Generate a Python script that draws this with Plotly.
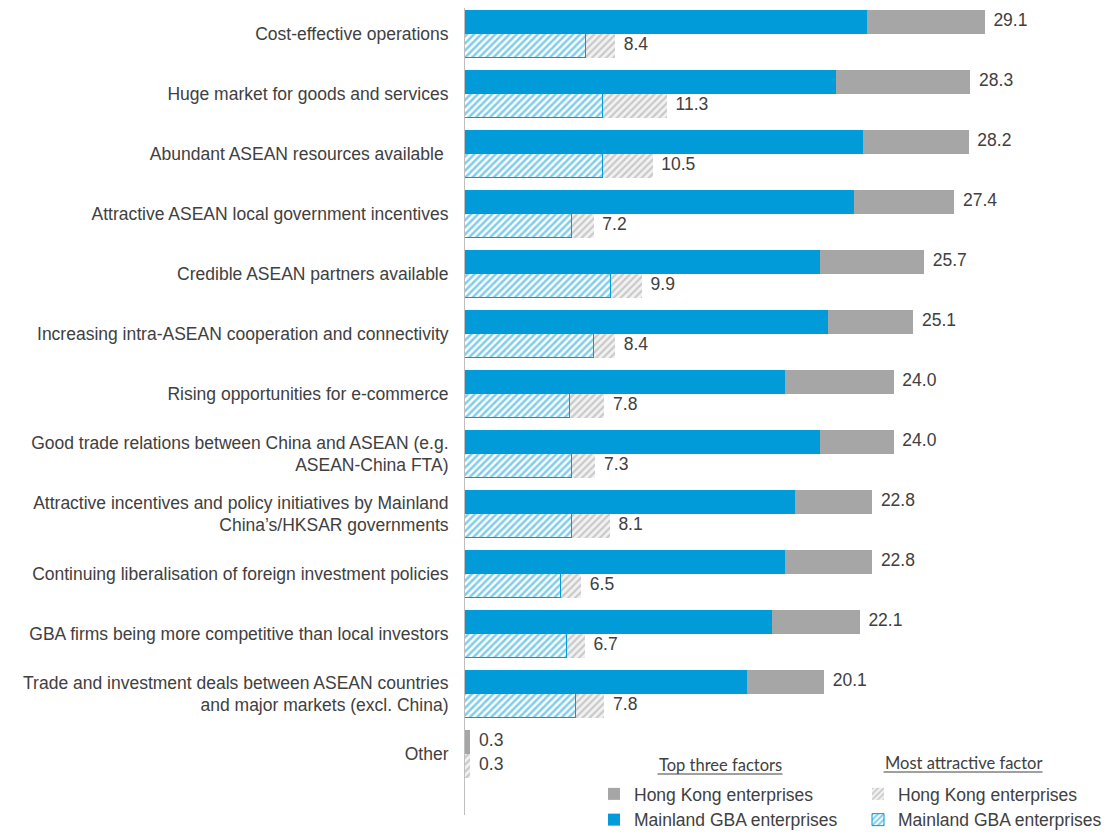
import plotly.graph_objects as go

# Survey factors (top to bottom)
categories = [
    "Cost-effective operations",
    "Huge market for goods and services",
    "Abundant ASEAN resources available ",
    "Attractive ASEAN local government incentives",
    "Credible ASEAN partners available",
    "Increasing intra-ASEAN cooperation and connectivity",
    "Rising opportunities for e-commerce",
    "Good trade relations between China and ASEAN (e.g.<br>ASEAN-China FTA)",
    "Attractive incentives and policy initiatives by Mainland<br>China’s/HKSAR governments",
    "Continuing liberalisation of foreign investment policies",
    "GBA firms being more competitive than local investors",
    "Trade and investment deals between ASEAN countries<br>and major markets (excl. China)",
    "Other",
]

# Top three factors (% share of respondents)
top3_mainland = [22.5, 20.8, 22.3, 21.8, 19.9, 20.3, 17.9, 19.9, 18.5, 17.9, 17.2, 15.8, 0.0]
top3_hongkong = [6.6, 7.5, 5.9, 5.6, 5.8, 4.8, 6.1, 4.1, 4.3, 4.9, 4.9, 4.3, 0.3]

# Most attractive factor (% share of respondents)
most_mainland = [6.8, 7.7, 7.7, 6.0, 8.2, 7.2, 5.9, 6.0, 6.0, 5.4, 5.7, 6.2, 0.0]
most_hongkong = [1.6, 3.6, 2.8, 1.2, 1.7, 1.2, 1.9, 1.3, 2.1, 1.1, 1.0, 1.6, 0.3]

BLUE = "#009BD8"
GREY = "#A6A6A6"
TEXT = "#404040"
FONT = "Liberation Sans, Arial, sans-serif"
FS = 17.5

idx = list(range(len(categories)))
pos_top = [i - 0.2 for i in idx]
pos_most = [i + 0.2 for i in idx]
tot_top = [round(a + b, 1) for a, b in zip(top3_mainland, top3_hongkong)]
tot_most = [round(a + b, 1) for a, b in zip(most_mainland, most_hongkong)]

fig = go.Figure()

fig.add_trace(go.Bar(
    y=pos_top, x=top3_mainland, orientation="h", width=0.4,
    name="Mainland GBA enterprises", marker=dict(color=BLUE, line=dict(width=0)),
    legend="legend",
))
fig.add_trace(go.Bar(
    y=pos_top, x=top3_hongkong, orientation="h", width=0.4,
    name="Hong Kong enterprises", marker=dict(color=GREY, line=dict(width=0)),
    legend="legend",
))
fig.add_trace(go.Bar(
    y=pos_most, x=most_mainland, orientation="h", width=0.4,
    name="Mainland GBA enterprises",
    marker=dict(color="white", line=dict(color=BLUE, width=1),
                pattern=dict(shape="/", fgcolor=BLUE, bgcolor="white",
                             size=5, solidity=0.5)),
    legend="legend2",
))
fig.add_trace(go.Bar(
    y=pos_most, x=most_hongkong, orientation="h", width=0.4,
    name="Hong Kong enterprises",
    marker=dict(color="white", line=dict(width=0),
                pattern=dict(shape="/", fgcolor="#A0A0A0", bgcolor="#F2F2F2",
                             size=5, solidity=0.45)),
    legend="legend2",
))

# Total labels at the end of each stacked bar
fig.add_trace(go.Scatter(
    y=pos_top + pos_most, x=tot_top + tot_most, mode="text",
    text=["\u2002" + f"{v:.1f}" for v in tot_top + tot_most],
    textposition="middle right",
    textfont=dict(family=FONT, size=FS, color=TEXT),
    showlegend=False, cliponaxis=False, hoverinfo="skip",
))

fig.update_layout(
    width=1109, height=834,
    barmode="stack",
    bargap=0,
    plot_bgcolor="white", paper_bgcolor="white",
    margin=dict(l=465, r=19, t=8, b=19, autoexpand=False),
    font=dict(family=FONT, size=FS, color=TEXT),
    xaxis=dict(range=[0, 35], visible=False),
    yaxis=dict(
        range=[13.02, -0.43],
        tickmode="array", tickvals=idx, ticktext=categories,
        showline=True, linecolor="#BFBFBF", linewidth=1,
        showgrid=False, zeroline=False, ticks="",
        ticklabelstandoff=12,
        tickfont=dict(family=FONT, size=FS, color=TEXT),
    ),
    legend=dict(
        xref="container", yref="container", x=594 / 1109, y=1 - 776 / 834,
        xanchor="left", yanchor="top", traceorder="reversed",
        bgcolor="rgba(0,0,0,0)", font=dict(family=FONT, size=FS, color=TEXT),
        itemwidth=30, tracegroupgap=0,
    ),
    legend2=dict(
        xref="container", yref="container", x=858 / 1109, y=1 - 776 / 834,
        xanchor="left", yanchor="top", traceorder="reversed",
        bgcolor="rgba(0,0,0,0)", font=dict(family=FONT, size=FS, color=TEXT),
        itemwidth=30, tracegroupgap=0,
    ),
)

# Legend headings with underlines
headings = [("Top three factors", 720, 765, 125), ("Most attractive factor", 963, 763, 159)]
for text, cx, cy, w in headings:
    fig.add_annotation(
        xref="paper", yref="paper",
        x=(cx - 465) / 625, y=(815 - cy) / 807,
        text=text, showarrow=False, xanchor="center", yanchor="middle",
        font=dict(family="Lato, Open Sans, sans-serif", size=16.5, color=TEXT),
    )
    fig.add_shape(
        type="line", xref="paper", yref="paper",
        x0=(cx - w / 2 - 465) / 625, x1=(cx + w / 2 - 465) / 625,
        y0=(815 - cy - 9) / 807, y1=(815 - cy - 9) / 807,
        line=dict(color=TEXT, width=1),
    )

fig.write_html("out.html")
